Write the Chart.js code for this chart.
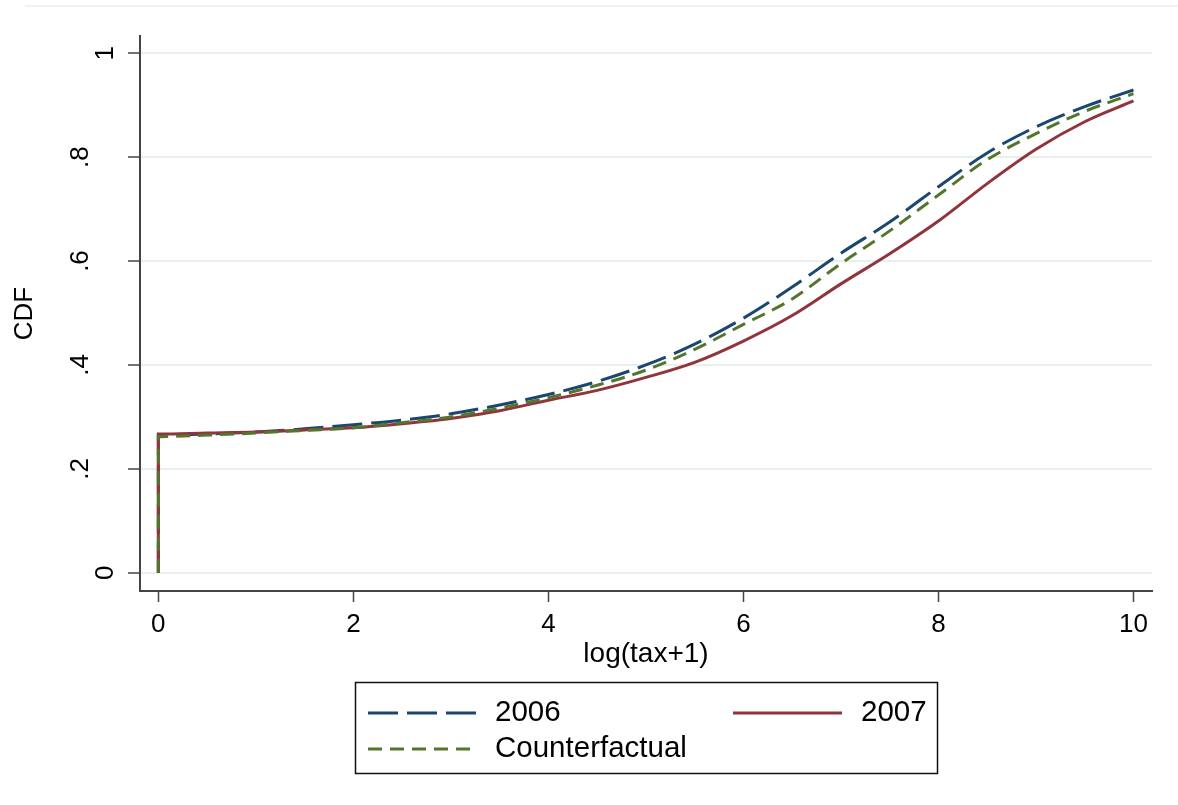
<!DOCTYPE html>
<html>
<head>
<meta charset="utf-8">
<title>CDF of log(tax+1)</title>
<script src="https://cdn.jsdelivr.net/npm/chart.js@4/dist/chart.umd.min.js"></script>
<style>
  html, body { margin: 0; padding: 0; background: #fff; }
  #wrap { width: 1178px; height: 805px; position: relative; }
</style>
</head>
<body>
<div id="wrap"><canvas id="cdf"></canvas></div>
<script>
// Values.
const xValues = [0, 0, 0.5, 1, 1.5, 2, 2.5, 3, 3.5, 4, 4.5, 5, 5.5, 6, 6.5, 7, 7.5, 8, 8.5, 9, 9.5, 10];
const cdf2006 = [0, .265, .267, .271, .277, .285, .294, .306, .323, .343, .368, .40, .44, .49, .55, .615, .675, .743, .808, .858, .897, .929];
const cdf2007 = [0, .267, .269, .271, .275, .279, .287, .297, .312, .332, .351, .376, .405, .446, .495, .556, .614, .677, .749, .815, .868, .908];
const cdfCounterfactual = [0, .262, .265, .269, .274, .279, .289, .300, .317, .337, .361, .39, .43, .478, .527, .595, .658, .727, .795, .845, .888, .922];

const seriesLabels = ['2006', '2007', 'Counterfactual'];
const xTickValues = [0, 2, 4, 6, 8, 10];
const yTickValues = [0, 0.2, 0.4, 0.6, 0.8, 1];
const yTickLabels = ['0', '.2', '.4', '.6', '.8', '1'];

const FONT = 'Liberation Sans, Arial, Helvetica, sans-serif';
const COLORS = { navy: '#1a476f', maroon: '#90353b', green: '#55752f', grid: '#e8eff1', axis: '#444' };

const points = (ys) => xValues.map((x, i) => ({ x, y: ys[i] }));

// Stata-style boxed legend, two columns, under the plot.
const LEGEND = {
  box: { x: 355.5, y: 682.5, w: 582, h: 91 },
  rows: [713, 749],
  slots: [
    { row: 0, x0: 368, x1: 476, tx: 495 },
    { row: 0, x0: 733, x1: 842, tx: 861 },
    { row: 1, x0: 368, x1: 472, tx: 495 },
  ],
};

const stataLegend = {
  id: 'stataLegend',
  beforeDraw(chart) {
    // faint outer frame line at the very top
    const ctx = chart.ctx;
    ctx.save();
    ctx.strokeStyle = '#e8eef0';
    ctx.lineWidth = 1.5;
    ctx.beginPath();
    ctx.moveTo(25, 6);
    ctx.lineTo(chart.width, 6);
    ctx.stroke();
    ctx.restore();
  },
  afterDraw(chart) {
    const ctx = chart.ctx;
    const b = LEGEND.box;
    ctx.save();
    ctx.strokeStyle = '#111';
    ctx.lineWidth = 1.5;
    ctx.strokeRect(b.x, b.y, b.w, b.h);
    ctx.font = '29.5px ' + FONT;
    ctx.fillStyle = '#000';
    ctx.textBaseline = 'middle';
    ctx.textAlign = 'left';
    chart.data.datasets.forEach((ds, i) => {
      const s = LEGEND.slots[i];
      const y = LEGEND.rows[s.row];
      ctx.strokeStyle = ds.borderColor;
      ctx.lineWidth = ds.borderWidth;
      ctx.setLineDash(ds.borderDash || []);
      ctx.beginPath();
      ctx.moveTo(s.x0, y);
      ctx.lineTo(s.x1, y);
      ctx.stroke();
      ctx.setLineDash([]);
      ctx.fillText(ds.label, s.tx, y);
    });
    ctx.restore();
  },
};

new Chart(document.getElementById('cdf'), {
  type: 'line',
  data: {
    datasets: [
      { label: seriesLabels[0], data: points(cdf2006), borderColor: COLORS.navy,
        borderWidth: 3, borderDash: [30, 9], order: 2 },
      { label: seriesLabels[1], data: points(cdf2007), borderColor: COLORS.maroon,
        borderWidth: 3, order: 1 },
      { label: seriesLabels[2], data: points(cdfCounterfactual), borderColor: COLORS.green,
        borderWidth: 3, borderDash: [14, 8], order: 0 },
    ],
  },
  options: {
    responsive: true,
    maintainAspectRatio: false,
    animation: false,
    elements: {
      point: { radius: 0, hoverRadius: 0 },
      line: { cubicInterpolationMode: 'monotone', fill: false },
    },
    layout: { padding: { left: 0, right: 26, top: 36, bottom: 134 } },
    plugins: { legend: { display: false }, tooltip: { enabled: false } },
    scales: {
      x: {
        type: 'linear',
        position: 'bottom',
        min: -0.188,
        max: 10.19,
        afterBuildTicks: (s) => { s.ticks = xTickValues.map((v) => ({ value: v })); },
        afterFit: (s) => { s.height = 80; },
        grid: { drawOnChartArea: false, drawTicks: true, tickLength: 11,
          tickColor: COLORS.axis, tickWidth: 1.5 },
        border: { display: true, color: COLORS.axis, width: 2 },
        ticks: { color: '#000', font: { family: FONT, size: 26 }, padding: 7,
          maxRotation: 0, autoSkip: false, callback: (v) => String(v) },
        title: { display: true, text: 'log(tax+1)', color: '#000',
          font: { family: FONT, size: 28 }, padding: { top: 0, bottom: 0 } },
      },
      y: {
        type: 'linear',
        position: 'left',
        min: -0.035,
        max: 1.033,
        afterBuildTicks: (s) => { s.ticks = yTickValues.map((v) => ({ value: v })); },
        afterFit: (s) => { s.width = 140; },
        grid: { color: COLORS.grid, lineWidth: 2, drawTicks: true, tickLength: 12,
          tickColor: COLORS.axis, tickWidth: 1.5 },
        border: { display: true, color: COLORS.axis, width: 2 },
        ticks: {
          color: '#000',
          font: { family: FONT, size: 26, lineHeight: 1.92 },
          padding: 11,
          minRotation: 90,
          maxRotation: 90,
          crossAlign: 'center',
          autoSkip: false,
          // labels with a leading dot sit further out, as in the original
          callback: (v, i) => {
            const t = yTickLabels[i];
            return t.startsWith('.') ? [t, ''] : t;
          },
        },
        title: { display: true, text: 'CDF', color: '#000',
          font: { family: FONT, size: 26 }, padding: { top: 9, bottom: 0 } },
      },
    },
  },
  plugins: [stataLegend],
});
</script>
</body>
</html>
